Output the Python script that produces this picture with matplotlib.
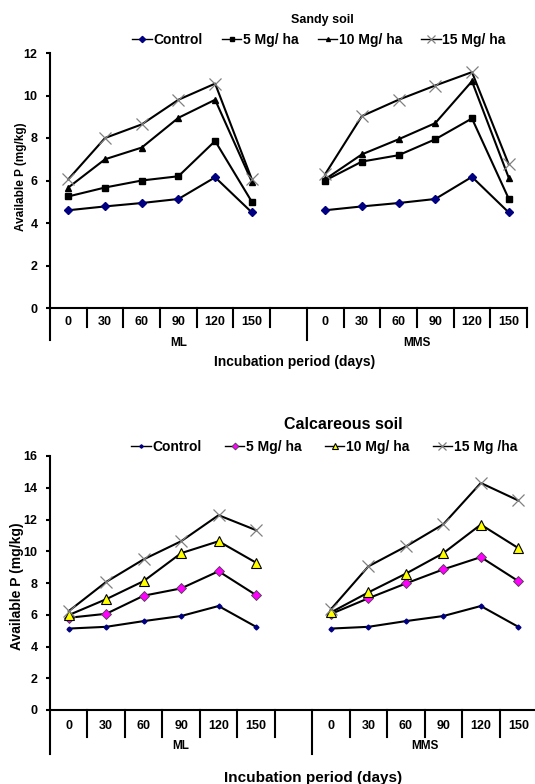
"""Available P in sandy and calcareous soils during incubation."""

import matplotlib
matplotlib.use("Agg")
import matplotlib.pyplot as plt
import matplotlib.transforms as mtransforms
from matplotlib.lines import Line2D

plt.rcParams["font.family"] = ["Liberation Sans", "DejaVu Sans"]
plt.rcParams["font.weight"] = "bold"

days = ["0", "30", "60", "90", "120", "150"]
groups = ["ML", "MMS"]
series = ["Control", "5 Mg/ ha", "10 Mg/ ha", "15 Mg/ ha"]
series_calc = ["Control", "5 Mg/ ha", "10 Mg/ ha", "15 Mg /ha"]

# sandy soil
sandy_ml = {
    "Control": [4.6, 4.78, 4.94, 5.13, 6.15, 4.5],
    "5 Mg/ ha": [5.25, 5.67, 6.0, 6.2, 7.86, 5.0],
    "10 Mg/ ha": [5.67, 7.0, 7.55, 8.95, 9.8, 5.95],
    "15 Mg/ ha": [6.06, 8.0, 8.64, 9.8, 10.56, 6.06],
}
sandy_mms = {
    "Control": [4.6, 4.78, 4.94, 5.13, 6.17, 4.5],
    "5 Mg/ ha": [6.0, 6.89, 7.19, 7.94, 8.92, 5.15],
    "10 Mg/ ha": [6.06, 7.23, 7.94, 8.7, 10.67, 6.14],
    "15 Mg/ ha": [6.3, 9.03, 9.8, 10.47, 11.1, 6.77],
}

# calcareous soil
calc_ml = {
    "Control": [5.13, 5.24, 5.6, 5.92, 6.55, 5.24],
    "5 Mg/ ha": [5.81, 6.06, 7.2, 7.66, 8.74, 7.24],
    "10 Mg/ ha": [5.98, 6.98, 8.12, 9.88, 10.63, 9.28],
    "15 Mg /ha": [6.23, 8.07, 9.49, 10.63, 12.27, 11.33],
}
calc_mms = {
    "Control": [5.13, 5.24, 5.6, 5.92, 6.55, 5.24],
    "5 Mg/ ha": [6.05, 7.04, 7.97, 8.86, 9.63, 8.12],
    "10 Mg/ ha": [6.15, 7.41, 8.59, 9.88, 11.68, 10.2],
    "15 Mg /ha": [6.35, 9.05, 10.3, 11.7, 14.3, 13.2],
}

sandy_style = [
    dict(marker="D", ms=4.5, mfc="#000080", mec="#000080"),
    dict(marker="s", ms=4.5, mfc="black", mec="black"),
    dict(marker="^", ms=4, mfc="black", mec="black"),
    dict(marker="x", ms=8, mfc="#808080", mec="#808080", mew=0.9),
]
calc_style = [
    dict(marker="D", ms=2.5, mfc="#000080", mec="#000080"),
    dict(marker="D", ms=5, mfc="#ff00ff", mec="#444444", mew=0.6),
    dict(marker="^", ms=6.5, mfc="#ffff00", mec="black", mew=0.8),
    dict(marker="x", ms=9, mfc="#808080", mec="#808080", mew=0.9),
]

W, H = 535, 784
fig = plt.figure(figsize=(W / 100, H / 100), dpi=100)


def draw_panel(rect, ml, mms, names, styles, ymax, title, title_xy, title_fs,
               legend_xy, legend_gap, sep_len, lab_off, grp_len, grp_off,
               xlab_xy, xlab_fs, ylab_xy, ylab_fs):
    ax = fig.add_axes(rect)
    ml_x = list(range(len(days)))
    mms_x = [len(days) + 1 + i for i in range(len(days))]
    handles = []
    for name, st in zip(names, styles):
        ax.plot(ml_x, ml[name], color="black", lw=1.5, clip_on=False, **st)
        ax.plot(mms_x, mms[name], color="black", lw=1.5, clip_on=False, **st)
        small = dict(st)
        small["ms"] = st["ms"] * 0.7
        handles.append(Line2D([], [], color="black", lw=1.0, **small))

    ax.set_xlim(-0.5, 12.5)
    ax.set_ylim(0, ymax)
    ax.set_yticks(range(0, ymax + 1, 2))
    ax.tick_params(axis="y", labelsize=9, length=3, width=1.5, pad=6)
    ax.set_xticks([])
    for side in ["top", "right"]:
        ax.spines[side].set_visible(False)
    for side in ["left", "bottom"]:
        ax.spines[side].set_linewidth(1.5)

    trans = mtransforms.blended_transform_factory(ax.transData, ax.transAxes)
    for b in range(14):
        edge = b - 0.5
        length = grp_len if b in (0, 7) else sep_len
        ax.plot([edge, edge], [0, -length], color="black", lw=1.5,
                transform=trans, clip_on=False)
    for x, d in zip(ml_x + mms_x, days + days):
        ax.text(x, -lab_off, d, transform=trans, ha="center", va="center",
                fontsize=9)
    ax.text(3.0, -grp_off, groups[0], transform=trans, ha="center",
            va="center", fontsize=8.5)
    ax.text(9.5, -grp_off, groups[1], transform=trans, ha="center",
            va="center", fontsize=8.5)

    fig.text(title_xy[0] / W, 1 - title_xy[1] / H, title, ha="center",
             va="center", fontsize=title_fs)
    fig.legend(handles, names, loc="center", ncol=4, frameon=False,
               bbox_to_anchor=(legend_xy[0] / W, 1 - legend_xy[1] / H),
               fontsize=10, handlelength=1.4, handletextpad=0.1,
               columnspacing=legend_gap)
    fig.text(xlab_xy[0] / W, 1 - xlab_xy[1] / H, "Incubation period (days)",
             ha="center", va="center", fontsize=xlab_fs)
    fig.text(ylab_xy[0] / W, 1 - ylab_xy[1] / H, "Available P (mg/kg)",
             rotation=90, ha="center", va="center", fontsize=ylab_fs)
    return ax


# top panel: sandy soil
draw_panel([50 / W, 476 / H, 477 / W, 255 / H], sandy_ml, sandy_mms, series,
           sandy_style, 12, "Sandy soil", (322, 20), 9, (319, 40), 1.4,
           sep_len=19 / 255, lab_off=14 / 255, grp_len=32 / 255,
           grp_off=35 / 255, xlab_xy=(295, 362), xlab_fs=10,
           ylab_xy=(21, 177), ylab_fs=8.5)

# bottom panel: calcareous soil
draw_panel([50 / W, 74 / H, 487 / W, 254 / H], calc_ml, calc_mms, series_calc,
           calc_style, 16, "Calcareous soil", (343, 424), 11.5, (324, 447), 1.7,
           sep_len=27 / 254, lab_off=16 / 254, grp_len=44 / 254,
           grp_off=36 / 254, xlab_xy=(313, 778), xlab_fs=11,
           ylab_xy=(17, 586), ylab_fs=10)

fig.savefig("out.png", dpi=100)
